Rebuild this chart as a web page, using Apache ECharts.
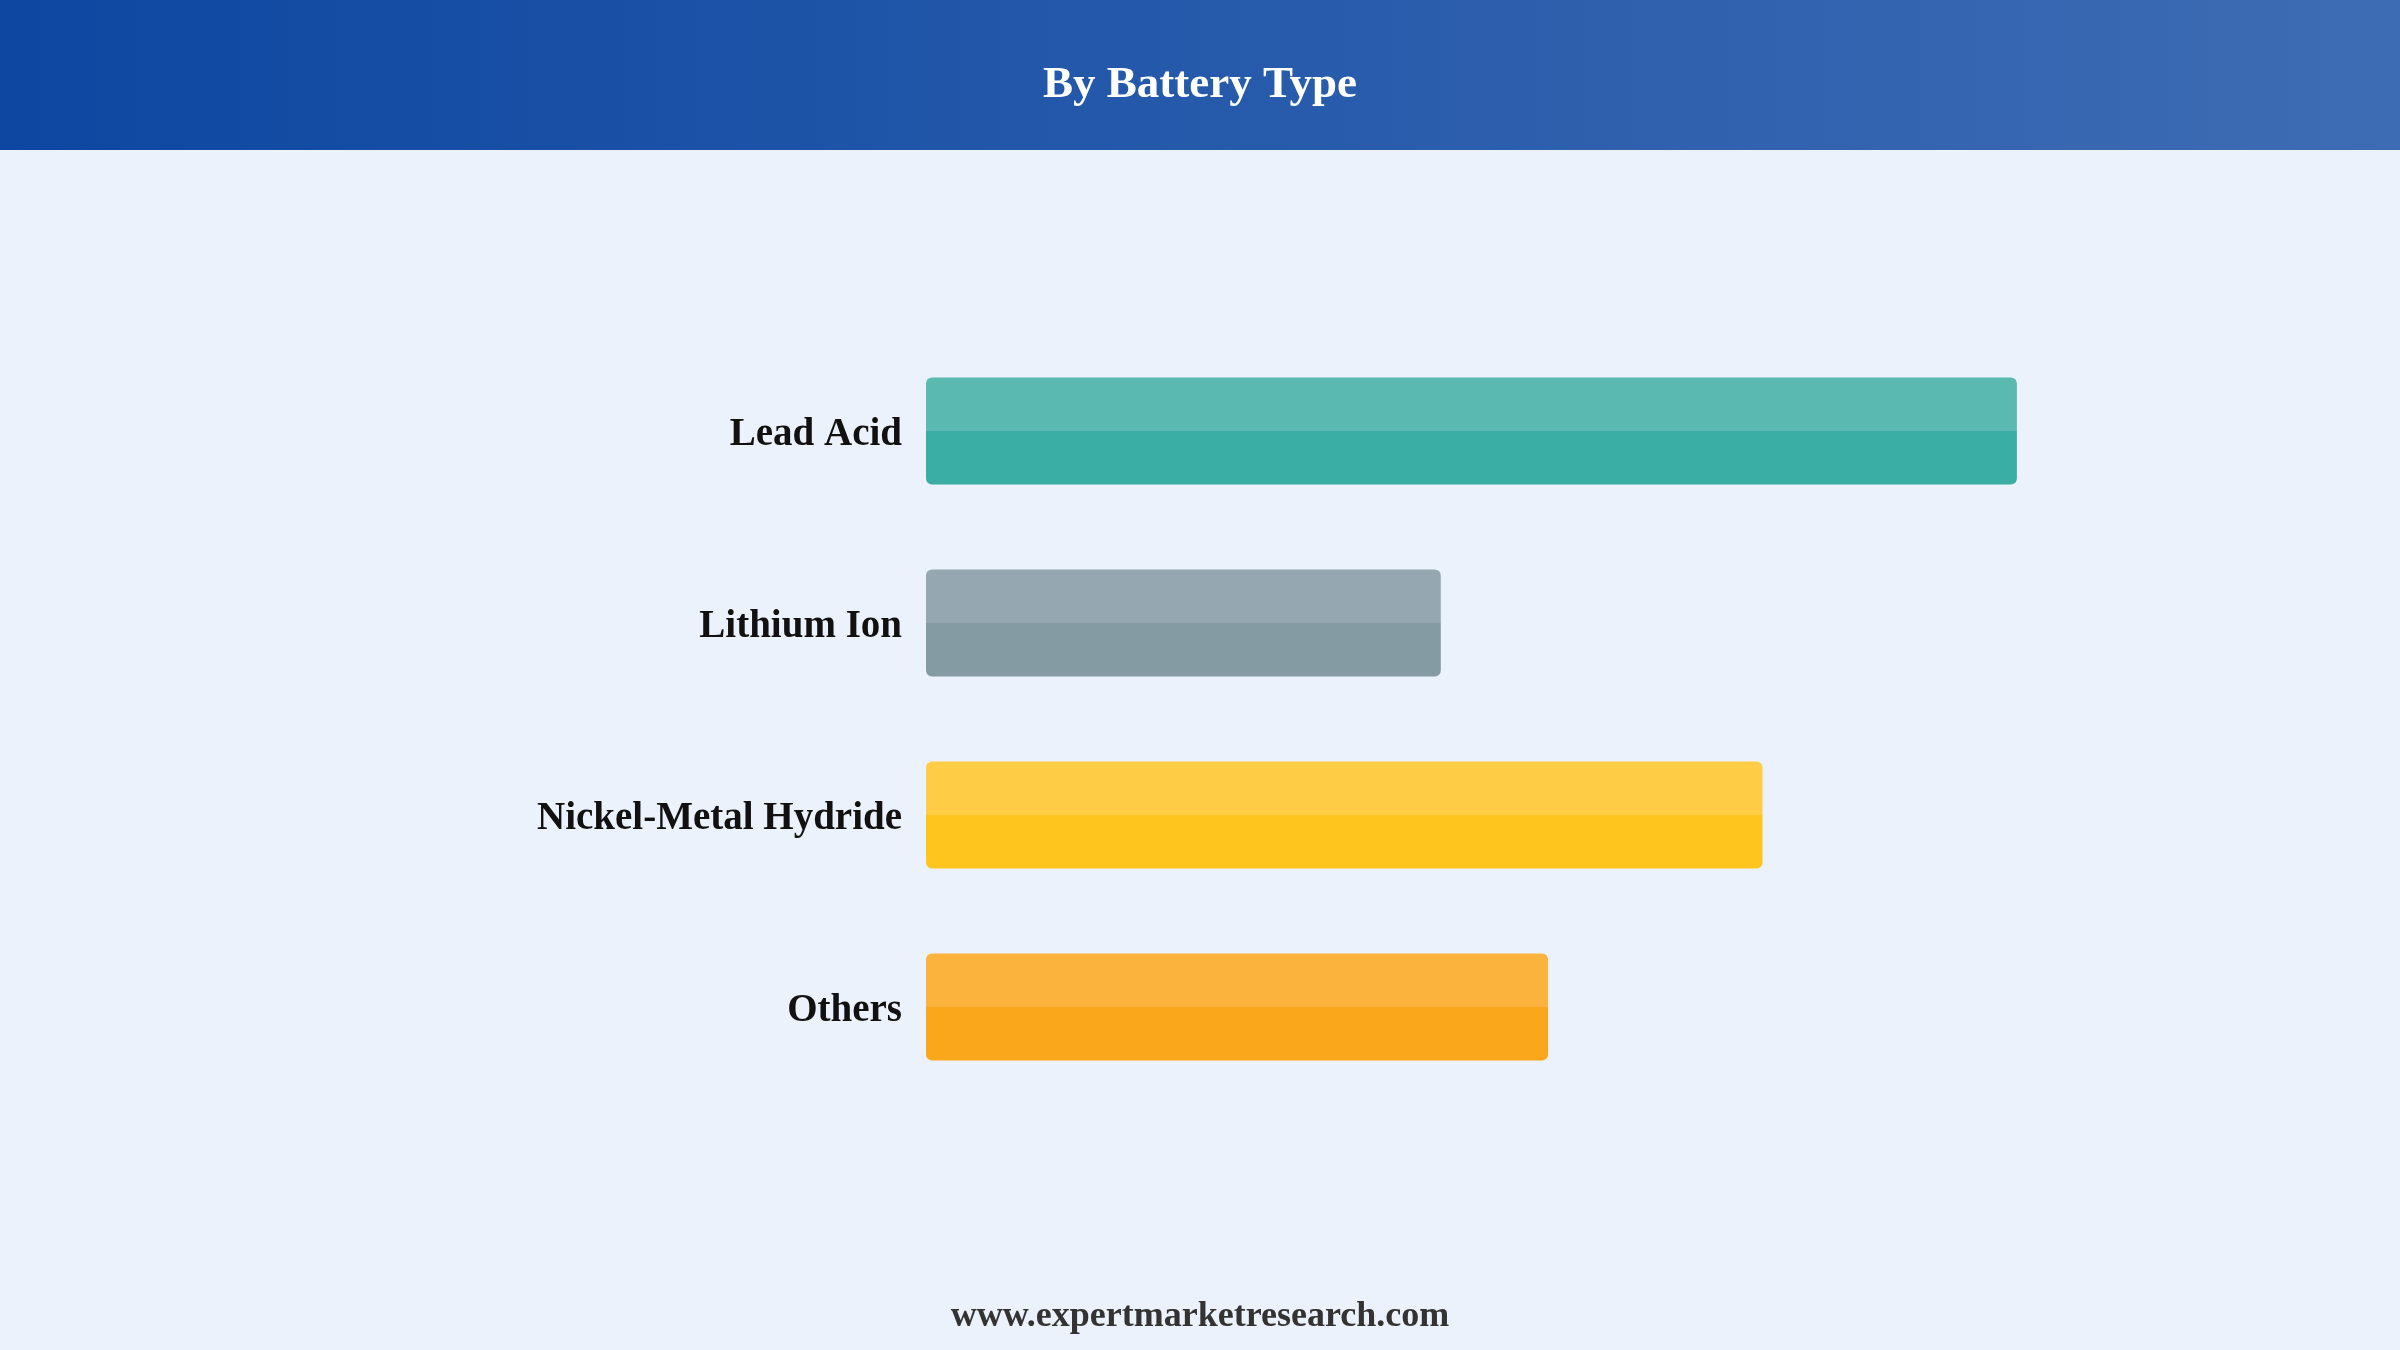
<!DOCTYPE html>
<html>
<head>
<meta charset="utf-8">
<style>
  html, body { margin: 0; padding: 0; background: #EBF2FC; }
  #chart { width: 2400px; height: 1350px; }
</style>
<script src="https://cdn.jsdelivr.net/npm/echarts@6/dist/echarts.min.js"></script>
</head>
<body>
<div id="chart"></div>
<script>
const titleText = 'By Battery Type';
const footerText = 'www.expertmarketresearch.com';
const categories = ['Lead Acid', 'Lithium Ion', 'Nickel-Metal Hydride', 'Others'];
const values = [35.6, 16.8, 27.3, 20.3];
const topColors = ['#5AB9B1', '#95A8B1', '#FECD45', '#FBB33D'];
const bottomColors = ['#3AAEA5', '#859BA4', '#FEC51F', '#FBA71B'];

const chart = echarts.init(document.getElementById('chart'), null, { renderer: 'canvas' });

const data = values.map((v, i) => ({
  value: v,
  itemStyle: {
    color: {
      type: 'linear', x: 0, y: 0, x2: 0, y2: 1,
      colorStops: [
        { offset: 0, color: topColors[i] },
        { offset: 0.5, color: topColors[i] },
        { offset: 0.5, color: bottomColors[i] },
        { offset: 1, color: bottomColors[i] }
      ]
    }
  }
}));

const option = {
  backgroundColor: '#EBF2FC',
  animation: false,
  graphic: [
    {
      type: 'rect',
      left: 0, top: 0, z: 0,
      shape: { x: 0, y: 0, width: 2400, height: 150 },
      style: {
        fill: {
          type: 'linear', x: 0, y: 0, x2: 1, y2: 0,
          colorStops: [
            { offset: 0, color: '#0D47A1' },
            { offset: 1, color: '#3E6CB4' }
          ]
        }
      }
    },
    {
      type: 'text',
      left: 'center', top: 63, z: 10,
      style: {
        text: titleText,
        fill: '#FFFFFF',
        font: 'bold 45px "Liberation Serif", "Times New Roman", serif'
      }
    },
    {
      type: 'text',
      left: 'center', top: 1299, z: 10,
      style: {
        text: footerText,
        fill: '#333333',
        font: 'bold 36px "Liberation Serif", "Times New Roman", serif'
      }
    }
  ],
  grid: { left: 926, right: 187, top: 335, bottom: 247, containLabel: false },
  xAxis: {
    type: 'value', min: 0, max: 42,
    show: false
  },
  yAxis: {
    type: 'category',
    data: categories,
    inverse: true,
    axisLine: { show: false },
    axisTick: { show: false },
    splitLine: { show: false },
    axisLabel: {
      margin: 24,
      formatter: '{a|{value}}',
      rich: {
        a: {
          padding: [8, 0, 0, 0],
          color: '#111111',
          fontFamily: '"Liberation Serif", "Times New Roman", serif',
          fontWeight: 'bold',
          fontSize: 39
        }
      }
    }
  },
  series: [{
    type: 'bar',
    data: data,
    barWidth: 107,
    itemStyle: { borderRadius: 6 }
  }]
};
chart.setOption(option);
</script>
</body>
</html>
